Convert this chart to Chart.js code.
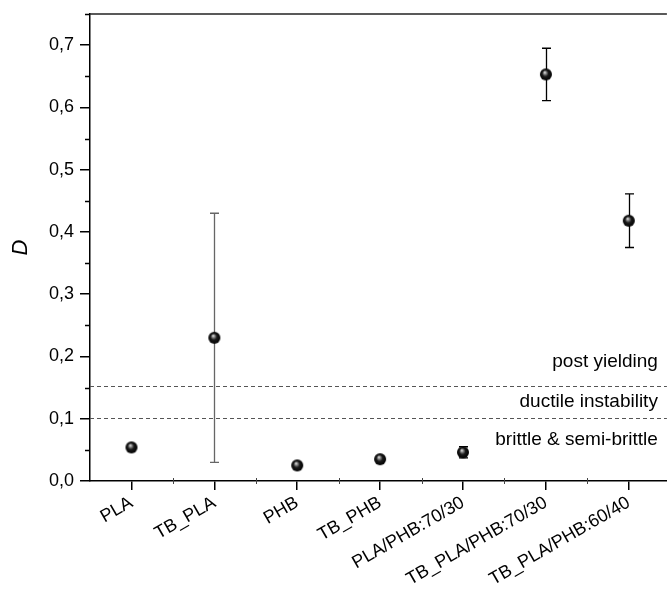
<!DOCTYPE html>
<html>
<head>
<meta charset="utf-8">
<script src="https://cdn.jsdelivr.net/npm/chart.js@4.4.1/dist/chart.umd.min.js"></script>
<style>
  html, body { margin: 0; padding: 0; background: #fff; overflow: hidden; }
  canvas { display: block; }
</style>
</head>
<body>
<canvas id="chart" width="667" height="598"></canvas>
<script>
// data
const categories = ['PLA', 'TB_PLA', 'PHB', 'TB_PHB', 'PLA/PHB:70/30', 'TB_PLA/PHB:70/30', 'TB_PLA/PHB:60/40'];
const dValues = [0.054, 0.230, 0.025, 0.035, 0.046, 0.653, 0.418];
const errLow  = [0.054, 0.030, 0.025, 0.035, 0.037, 0.611, 0.375];
const errHigh = [0.054, 0.430, 0.025, 0.035, 0.055, 0.695, 0.461];
const yTicks = [0, 0.1, 0.2, 0.3, 0.4, 0.5, 0.6, 0.7];
const limitLines = [0.101, 0.152];
const zoneLabels = ['brittle & semi-brittle', 'ductile instability', 'post yielding'];
const zoneLabelY = [0.066, 0.128, 0.191];

const FONT = "'Liberation Sans', Arial, sans-serif";
const errColors = ['#000', '#666', '#000', '#000', '#000', '#000', '#000'];

// shiny black ball used as marker
function makeBall(r) {
  const c = document.createElement('canvas');
  const s = r * 2 + 2;
  c.width = s; c.height = s;
  const g = c.getContext('2d');
  const cx = s / 2, cy = s / 2;
  const grad = g.createRadialGradient(cx - r * 0.2, cy - r * 0.35, 0.3, cx, cy, r);
  grad.addColorStop(0, '#e0e0e0');
  grad.addColorStop(0.2, '#8a8a8a');
  grad.addColorStop(0.5, '#1a1a1a');
  grad.addColorStop(1, '#000');
  g.fillStyle = grad;
  g.beginPath();
  g.arc(cx, cy, r, 0, Math.PI * 2);
  g.fill();
  return c;
}
const ball = makeBall(6);

// no extra label padding, the plot box is fixed
function noPad(s) {
  s.paddingTop = 0; s.paddingBottom = 0;
  s.paddingLeft = 0; s.paddingRight = 0;
}

const extras = {
  id: 'extras',
  beforeDatasetsDraw(chart) {
    const ctx = chart.ctx;
    const xs = chart.scales.x, ys = chart.scales.y;
    const a = chart.chartArea;
    ctx.save();

    // top frame line
    ctx.strokeStyle = '#222';
    ctx.lineWidth = 1.5;
    ctx.beginPath();
    ctx.moveTo(a.left, a.top);
    ctx.lineTo(a.right, a.top);
    ctx.stroke();

    // minor ticks
    ctx.strokeStyle = '#000';
    ctx.lineWidth = 1.5;
    ctx.beginPath();
    for (let i = 0; i < yTicks.length; i++) {
      const y = Math.round(ys.getPixelForValue(yTicks[i] + 0.05)) + 0.5;
      if (y < a.top) continue;
      ctx.moveTo(a.left - 5, y);
      ctx.lineTo(a.left, y);
    }
    ctx.stroke();
    ctx.strokeStyle = '#444';
    ctx.lineWidth = 1;
    ctx.beginPath();
    for (let i = 0; i < categories.length; i++) {
      const x = Math.round(xs.getPixelForValue(i + 0.5)) + 0.5;
      if (x > a.right) continue;
      ctx.moveTo(x, a.bottom - 3);
      ctx.lineTo(x, a.bottom + 3);
    }
    ctx.stroke();

    // region borders
    ctx.strokeStyle = '#555';
    ctx.lineWidth = 1;
    ctx.setLineDash([4, 3]);
    limitLines.forEach(v => {
      const y = Math.round(ys.getPixelForValue(v)) + 0.5;
      ctx.beginPath();
      ctx.moveTo(a.left, y);
      ctx.lineTo(a.right, y);
      ctx.stroke();
    });
    ctx.setLineDash([]);

    // region names
    ctx.fillStyle = '#000';
    ctx.font = '19px ' + FONT;
    ctx.textAlign = 'right';
    ctx.textBaseline = 'middle';
    zoneLabels.forEach((t, i) => {
      ctx.fillText(t, a.right - 9, ys.getPixelForValue(zoneLabelY[i]));
    });

    // error bars
    ctx.lineWidth = 1.3;
    dValues.forEach((v, i) => {
      if (errHigh[i] - errLow[i] < 0.001) return;
      const x = Math.round(xs.getPixelForValue(i)) + 0.5;
      const y1 = ys.getPixelForValue(errLow[i]);
      const y2 = ys.getPixelForValue(errHigh[i]);
      ctx.strokeStyle = errColors[i];
      ctx.beginPath();
      ctx.moveTo(x, y1); ctx.lineTo(x, y2);
      ctx.moveTo(x - 4.5, y1); ctx.lineTo(x + 4.5, y1);
      ctx.moveTo(x - 4.5, y2); ctx.lineTo(x + 4.5, y2);
      ctx.stroke();
    });
    ctx.restore();
  }
};

new Chart(document.getElementById('chart'), {
  type: 'scatter',
  data: {
    datasets: [{
      data: categories.map((c, i) => ({ x: i, y: dValues[i] })),
      pointStyle: ball,
      // image marker keeps its own size; tiny radius stops layout overflow padding
      pointRadius: 0.1,
      pointHoverRadius: 0.1,
      pointBorderWidth: 0
    }]
  },
  options: {
    responsive: false,
    animation: false,
    events: [],
    layout: { padding: { top: 14, right: 0, left: 0, bottom: 0 } },
    plugins: { legend: { display: false }, tooltip: { enabled: false } },
    scales: {
      x: {
        type: 'linear',
        min: -0.5,
        max: 6.46,
        afterBuildTicks: s => { s.ticks = categories.map((c, i) => ({ value: i })); },
        afterFit: s => { s.height = 117; noPad(s); },
        border: { display: true, color: '#000', width: 1.5 },
        grid: { drawOnChartArea: false, drawTicks: true, tickLength: 9, color: '#000', lineWidth: 1.5 },
        ticks: {
          autoSkip: false,
          minRotation: 30,
          maxRotation: 30,
          padding: 2,
          color: '#000',
          font: { family: FONT, size: 18 },
          callback: v => categories[v]
        }
      },
      y: {
        min: 0,
        max: 0.75,
        afterBuildTicks: s => { s.ticks = yTicks.map(v => ({ value: v })); },
        afterFit: s => { s.width = 90; noPad(s); },
        border: { display: true, color: '#000', width: 1.5 },
        grid: { drawOnChartArea: false, drawTicks: true, tickLength: 10, color: '#000', lineWidth: 1.5 },
        ticks: {
          padding: 6,
          color: '#000',
          font: { family: FONT, size: 18 },
          callback: v => v.toFixed(1).replace('.', ',')
        },
        title: {
          display: true,
          text: 'D',
          color: '#000',
          padding: { top: 8, bottom: 0 },
          font: { family: FONT, size: 22, style: 'italic' }
        }
      }
    }
  },
  plugins: [extras]
});
</script>
</body>
</html>
